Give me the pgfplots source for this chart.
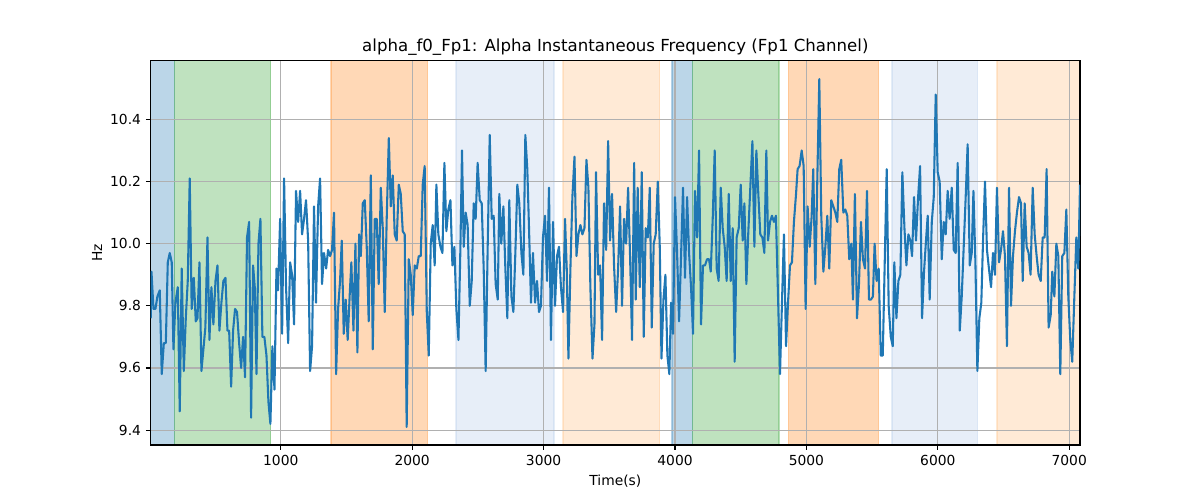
\documentclass[border=0pt]{standalone}
\usepackage{fontspec}
\setmainfont{DejaVu Sans}
\usepackage{pgfplots}
\pgfplotsset{compat=1.18}
\definecolor{cblue}{HTML}{1F77B4}
\definecolor{cgreen}{HTML}{2CA02C}
\definecolor{corange}{HTML}{FF7F0E}
\definecolor{clblue}{HTML}{AEC7E8}
\definecolor{clorange}{HTML}{FFBB78}
\definecolor{gridc}{HTML}{B0B0B0}
\pgfplotsset{span/.style={fill=#1, fill opacity=0.3, draw=#1, draw opacity=0.3, line width=1pt, mark=none, on layer=axis background}}
\begin{document}
\begin{tikzpicture}
\path (0,0) rectangle (12in,5in);
\begin{axis}[
  at={(1.507in,0.55in)}, anchor=south west,
  scale only axis, width=9.293in, height=3.843in,
  set layers=standard,
  xmin=10, xmax=7082, ymin=9.352, ymax=10.589,
  xtick={1000,2000,3000,4000,5000,6000,7000},
  ytick={9.4,9.6,9.8,10.0,10.2,10.4},
  grid=major,
  grid style={color=gridc, line width=0.8pt},
  axis line style={line width=0.8pt},
  tick align=outside, tick pos=left,
  major tick length=3.5pt,
  tick style={black, line width=0.8pt},
  ticklabel style={font=\fontsize{10}{12}\selectfont},
  /pgf/number format/assume math mode=true,
  x tick label style={/pgf/number format/1000 sep={}},
  y tick label style={/pgf/number format/.cd, fixed, fixed zerofill, precision=1},
  title={alpha\_f0\_Fp1: Alpha Instantaneous Frequency (Fp1 Channel)},
  title style={font=\fontsize{12}{14}\selectfont, at={(axis description cs:0.5,1.0383)}, anchor=center, yshift=-7.2pt},
  xlabel={Time(s)},
  xlabel style={font=\fontsize{10}{12}\selectfont, at={(axis description cs:0.5,-0.0937)}, anchor=center},
  ylabel={Hz},
  ylabel style={font=\fontsize{10}{12}\selectfont, at={(axis description cs:-0.0578,0.5)}, anchor=center},
]
\addplot[span=cblue] coordinates {(10,9.352) (190,9.352) (190,10.589) (10,10.589) (10,9.352)};
\addplot[span=cgreen] coordinates {(190,9.352) (924,9.352) (924,10.589) (190,10.589) (190,9.352)};
\addplot[span=corange] coordinates {(1383,9.352) (2118,9.352) (2118,10.589) (1383,10.589) (1383,9.352)};
\addplot[span=clblue] coordinates {(2334,9.352) (3080,9.352) (3080,10.589) (2334,10.589) (2334,9.352)};
\addplot[span=clorange] coordinates {(3148,9.352) (3884,9.352) (3884,10.589) (3148,10.589) (3148,9.352)};
\addplot[span=cblue] coordinates {(3977,9.352) (4132,9.352) (4132,10.589) (3977,10.589) (3977,9.352)};
\addplot[span=cgreen] coordinates {(4132,9.352) (4792,9.352) (4792,10.589) (4132,10.589) (4132,9.352)};
\addplot[span=corange] coordinates {(4862,9.352) (5550,9.352) (5550,10.589) (4862,10.589) (4862,9.352)};
\addplot[span=clblue] coordinates {(5651,9.352) (6303,9.352) (6303,10.589) (5651,10.589) (5651,9.352)};
\addplot[span=clorange] coordinates {(6450,9.352) (7082,9.352) (7082,10.589) (6450,10.589) (6450,9.352)};
\addplot[color=cblue, line width=1.5pt, line join=round, mark=none] coordinates {
(10,9.76) (16,9.91) (31,9.79) (46,9.79) (61,9.83) (79,9.85) (94,9.58) (110,9.68) (125,9.68) (140,9.94)
(155,9.97) (170,9.94) (183,9.66) (198,9.81) (216,9.86) (231,9.46) (246,9.92) (262,9.59) (277,9.76) (292,9.88)
(307,10.21) (322,9.79) (338,9.89) (353,9.75) (366,9.76) (381,9.94) (396,9.59) (411,9.66) (426,9.73) (442,10.02)
(457,9.69) (472,9.86) (487,9.74) (503,9.88) (518,9.93) (533,9.72) (548,9.81) (563,9.88) (579,9.89) (594,9.72)
(607,9.72) (622,9.54) (637,9.72) (652,9.79) (667,9.78) (683,9.68) (698,9.60) (713,9.70) (728,9.57) (743,10.02)
(759,10.07) (774,9.44) (789,9.93)
(802,9.86) (815,9.58) (830,10.00) (845,10.08) (860,9.70) (875,9.70) (891,9.64) (906,9.49) (921,9.42) (936,9.67)
(952,9.53) (967,9.92) (979,9.85) (995,10.08) (1010,9.71) (1025,10.21) (1040,9.86) (1056,9.68) (1071,9.94) (1086,9.90)
(1101,9.74) (1116,10.17) (1132,10.07) (1147,10.17) (1162,10.03) (1177,10.08) (1192,10.14) (1208,10.01) (1223,9.59) (1238,9.67)
(1253,10.12) (1268,9.81) (1284,10.12) (1299,10.21) (1314,9.87) (1329,9.97) (1345,9.92) (1360,9.98) (1375,9.96) (1390,9.98)
(1405,10.10) (1421,9.58) (1436,9.79) (1451,9.88) (1464,10.01) (1479,9.71) (1494,9.82) (1509,9.69) (1525,9.84) (1537,9.94)
(1553,9.72) (1568,10.00) (1583,9.65)
(1596,10.03) (1609,9.96) (1624,10.13) (1639,10.14) (1654,9.99) (1669,9.75) (1685,10.22) (1700,9.66) (1715,10.08) (1730,10.08)
(1745,9.87) (1761,10.18) (1776,10.05) (1791,9.78) (1806,10.08) (1822,10.34) (1837,10.12) (1852,10.22) (1867,10.03) (1882,10.01)
(1898,10.19) (1913,10.16) (1928,10.04) (1943,10.03) (1958,9.41) (1974,9.95) (1989,9.90) (2004,9.77) (2019,9.93) (2035,9.92)
(2050,9.96) (2065,9.96) (2080,10.19) (2095,10.25) (2111,9.78) (2126,9.64) (2141,10.00) (2156,10.06) (2171,9.93) (2184,10.19)
(2199,10.03) (2215,9.99) (2230,9.97) (2245,10.26) (2260,10.04) (2275,10.11) (2291,10.14) (2306,9.93) (2321,9.99) (2336,9.79)
(2352,9.69) (2367,9.99) (2379,10.30)
(2392,9.99) (2407,10.10) (2422,10.06) (2438,9.80) (2453,9.88) (2468,10.13) (2483,10.08) (2498,10.26) (2514,10.14) (2529,10.13)
(2544,9.92) (2559,9.59) (2574,9.98) (2590,10.35) (2605,10.08) (2620,10.09) (2635,9.87) (2651,9.82) (2663,10.16) (2678,10.00)
(2694,10.12) (2709,9.92) (2724,9.76) (2739,10.14) (2755,9.83) (2770,9.78) (2785,9.97) (2800,10.19) (2815,10.13) (2831,9.97)
(2846,9.90) (2861,10.35) (2876,10.24) (2889,10.05) (2904,9.81) (2919,9.97) (2935,9.81) (2950,9.88) (2965,9.78) (2980,9.80)
(2995,10.02) (3011,10.09) (3026,9.88) (3041,10.18) (3056,9.69) (3072,10.07) (3087,9.80) (3102,9.96) (3117,9.99) (3132,9.86)
(3148,9.78) (3163,10.08)
(3176,9.92) (3189,9.63) (3204,9.92) (3219,10.15) (3235,10.28) (3250,9.96) (3265,10.03) (3280,10.06) (3295,10.03) (3311,10.05)
(3326,10.27) (3341,10.18) (3356,9.86) (3372,9.63) (3387,9.74) (3399,10.23) (3415,9.90) (3430,9.93) (3445,9.69) (3460,10.13)
(3476,9.98) (3491,10.33) (3506,10.01) (3521,10.16) (3536,9.93) (3552,9.78) (3567,9.92) (3582,10.12) (3597,9.80) (3612,10.08)
(3628,10.00) (3643,10.18) (3658,9.96) (3673,9.69) (3689,10.26) (3701,9.82) (3716,10.18) (3732,9.86) (3747,10.23) (3762,9.70)
(3777,10.05) (3793,10.02) (3808,10.18) (3823,9.73) (3838,10.00) (3853,10.03) (3869,10.20) (3884,9.99) (3897,9.63) (3912,9.82)
(3927,9.90) (3942,9.64) (3957,9.58)
(3970,9.81) (3985,9.71) (4000,10.15) (4015,9.98) (4031,9.75) (4046,9.96) (4061,10.18) (4076,9.89) (4092,10.15) (4107,9.97)
(4122,9.86) (4137,9.71) (4152,10.17) (4168,10.02) (4183,10.30) (4198,9.74) (4213,9.93) (4228,9.93) (4244,9.95) (4259,9.95)
(4272,9.91) (4287,10.08) (4302,10.30) (4317,9.92) (4332,9.88) (4348,10.18) (4363,10.05) (4378,9.99) (4393,9.88) (4409,10.16)
(4424,9.88) (4439,10.05) (4454,9.62) (4469,10.02) (4485,10.05) (4500,10.19) (4515,10.01) (4528,10.13) (4543,9.87) (4558,10.04)
(4573,10.18) (4589,10.33) (4604,9.99) (4619,10.30) (4634,10.16) (4649,10.03) (4665,10.02) (4680,9.97) (4695,10.30) (4708,10.01)
(4723,10.07) (4738,10.09) (4753,10.07)
(4768,10.09) (4784,9.83) (4799,9.58) (4814,9.81) (4829,10.03) (4845,9.67) (4860,9.81) (4875,9.93) (4890,9.94) (4905,10.07)
(4921,10.16) (4933,10.24) (4948,10.25) (4964,10.30) (4979,10.25) (4994,9.79) (5009,10.12) (5025,9.99) (5040,10.09) (5052,10.24)
(5068,9.87) (5083,10.21) (5098,10.53) (5113,10.09) (5129,9.91) (5144,9.99) (5159,10.09) (5174,9.92) (5189,10.14) (5205,10.12)
(5220,10.10) (5235,10.07) (5250,10.24) (5265,10.27) (5281,10.10) (5296,10.11) (5311,10.09) (5326,9.95) (5342,10.00) (5354,9.82)
(5369,10.16) (5385,9.76) (5400,9.87) (5415,10.07) (5430,9.95) (5446,9.92) (5461,10.17) (5476,9.82) (5491,9.82) (5506,9.83)
(5519,10.00) (5534,9.88)
(5550,9.92) (5566,9.64) (5581,9.64) (5596,9.94) (5611,10.24) (5626,9.80) (5642,9.70) (5657,9.67) (5669,9.94) (5685,9.76)
(5700,9.88) (5715,9.90) (5730,10.23) (5746,10.05) (5761,9.93) (5776,10.03) (5791,10.01) (5804,9.96) (5819,10.15) (5834,10.01)
(5850,10.15) (5865,10.25) (5880,9.76) (5895,9.91) (5910,10.01) (5923,10.09) (5938,9.82) (5954,10.07) (5969,10.15) (5984,10.48)
(5999,10.23) (6014,10.20) (6030,9.95) (6045,10.07) (6060,10.03) (6075,10.17) (6090,10.08) (6106,10.18) (6121,9.98) (6136,9.97)
(6151,10.26) (6167,9.72) (6182,9.83) (6197,9.99) (6212,10.15) (6227,10.32) (6243,9.93) (6258,9.97) (6271,10.17) (6286,9.94)
(6301,9.59) (6316,9.76) (6331,9.81)
(6344,10.01) (6359,10.20) (6374,9.98) (6389,9.92) (6405,9.86) (6420,9.97) (6435,9.90) (6450,10.18) (6466,9.94) (6481,9.98)
(6496,10.04) (6511,9.96) (6526,9.67) (6542,10.18) (6557,9.80) (6572,9.96) (6587,10.04) (6602,10.10) (6618,10.15) (6633,10.13)
(6646,9.88) (6661,10.13) (6676,9.99) (6691,9.97) (6706,9.90) (6722,10.18) (6737,10.03) (6752,9.96) (6767,9.90) (6783,9.88)
(6798,10.02) (6813,10.02) (6828,10.24) (6843,9.73) (6859,9.77) (6871,9.91) (6887,9.83) (6902,10.00) (6917,9.96) (6932,9.58)
(6947,9.96) (6963,9.97) (6978,10.11) (6993,9.83) (7008,9.69) (7023,9.62) (7039,9.83) (7054,10.02) (7069,9.92) (7082,10.19)
};
\end{axis}
\end{tikzpicture}
\end{document}
